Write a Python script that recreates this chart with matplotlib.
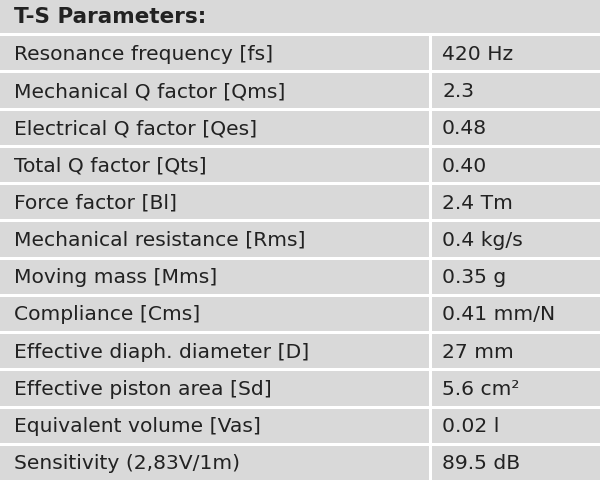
import matplotlib.pyplot as plt
from matplotlib.patches import Rectangle

title = 'T-S Parameters:'
params = ['Resonance frequency [fs]', 'Mechanical Q factor [Qms]', 'Electrical Q factor [Qes]',
          'Total Q factor [Qts]', 'Force factor [Bl]', 'Mechanical resistance [Rms]',
          'Moving mass [Mms]', 'Compliance [Cms]', 'Effective diaph. diameter [D]',
          'Effective piston area [Sd]', 'Equivalent volume [Vas]', 'Sensitivity (2,83V/1m)']
values = ['420 Hz', '2.3', '0.48', '0.40', '2.4 Tm', '0.4 kg/s', '0.35 g', '0.41 mm/N',
          '27 mm', '5.6 cm²', '0.02 l', '89.5 dB']

W, H = 600, 481
fig = plt.figure(figsize=(6, 4.81), dpi=100)
ax = fig.add_axes([0, 0, 1, 1])
ax.set_xlim(0, W)
ax.set_ylim(H, 0)
ax.axis('off')

gray = '#d9d9d9'
gap = 3
row_h = (H + gap) / (len(params) + 1)
split = 430
fs = 14.6

# header
ax.add_patch(Rectangle((0, 0), W, row_h - gap, color=gray, lw=0))
ax.text(14, (row_h - gap) / 2, title, fontsize=15.5, fontweight='bold', va='center', ha='left',
        color='#222222')

for i, (p, v) in enumerate(zip(params, values)):
    y0 = (i + 1) * row_h
    h = row_h - gap
    ax.add_patch(Rectangle((0, y0), split - gap / 2, h, color=gray, lw=0))
    ax.add_patch(Rectangle((split + gap / 2, y0), W - split - gap / 2, h, color=gray, lw=0))
    ax.text(14, y0 + h / 2, p, fontsize=fs, va='center', ha='left', color='#222222')
    ax.text(442, y0 + h / 2, v, fontsize=fs, va='center', ha='left', color='#222222')

plt.savefig('out.png', dpi=100)
